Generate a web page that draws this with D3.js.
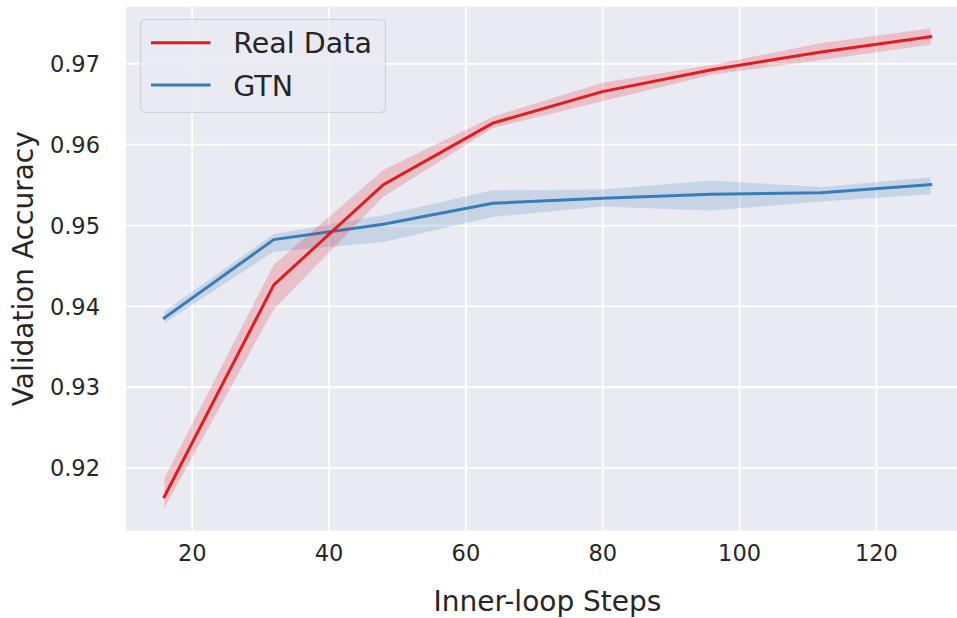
<!DOCTYPE html>
<html>
<head>
<meta charset="utf-8">
<script src="https://cdn.jsdelivr.net/npm/d3@7"></script>
<style>
  body { margin: 0; background: #fff; }
  text { font-family: "DejaVu Sans", sans-serif; fill: #262626; }
</style>
</head>
<body>
<svg id="chart"></svg>
<script>
// inner-loop steps on the x axis
var steps = [16, 32, 48, 64, 80, 96, 112, 128];

// Real Data: mean and confidence band
var realMean = [0.9164, 0.9426, 0.9550, 0.9626, 0.9665, 0.9692, 0.9714, 0.9733];
var realLow  = [0.9150, 0.9396, 0.9535, 0.9620, 0.9653, 0.9686, 0.9704, 0.9723];
var realHigh = [0.9187, 0.9451, 0.9568, 0.9634, 0.9676, 0.9698, 0.9725, 0.9743];

// GTN: mean and confidence band
var gtnMean = [0.9385, 0.9482, 0.9501, 0.9527, 0.9533, 0.9538, 0.9540, 0.9550];
var gtnLow  = [0.9379, 0.9467, 0.9479, 0.9510, 0.9523, 0.9518, 0.9529, 0.9538];
var gtnHigh = [0.9393, 0.9489, 0.9512, 0.9543, 0.9544, 0.9555, 0.9547, 0.9559];

var xTicks = [20, 40, 60, 80, 100, 120];
var yTicks = [0.92, 0.93, 0.94, 0.95, 0.96, 0.97];

var width = 957;
var height = 618;
var margin = {"top": 6.7, "right": -12, "bottom": 87.3, "left": 126};

var svg = d3.select("svg#chart")
    .attr("width", width)
    .attr("height", height);

var x = d3.scaleLinear()
    .domain([10.4, 133.6])
    .range([margin.left, width - margin.right]);

var y = d3.scaleLinear()
    .domain([0.9122, 0.9770])
    .range([height - margin.bottom, margin.top]);

svg.append("clipPath").attr("id", "plot-clip")
  .append("rect")
    .attr("x", margin.left)
    .attr("y", margin.top)
    .attr("width", width - margin.left)
    .attr("height", y.range()[0] - margin.top);

// background
svg.append("rect")
    .attr("x", margin.left)
    .attr("y", margin.top)
    .attr("width", x.range()[1] - margin.left)
    .attr("height", y.range()[0] - margin.top)
    .attr("fill", "#eaeaf2");

// grid via axes
var gx = svg.append("g")
    .attr("transform", "translate(0," + y.range()[0] + ")")
    .call(d3.axisBottom(x).tickValues(xTicks).tickSize(-(y.range()[0] - margin.top)).tickPadding(14).tickFormat(d3.format("d")));
var gy = svg.append("g")
    .attr("transform", "translate(" + margin.left + ",0)")
    .call(d3.axisLeft(y).tickValues(yTicks).tickSize(-(x.range()[1] - margin.left)).tickPadding(26).tickFormat(d3.format(".2f")));

[gx, gy].forEach(function(g) {
    g.select(".domain").remove();
    g.selectAll(".tick line").attr("stroke", "#fff").attr("stroke-width", 1.8);
    g.selectAll(".tick text").style("font-size", "22.5px").attr("fill", "#262626");
});
gy.selectAll(".tick text").attr("dy", "0.36em");
gx.selectAll(".tick text").attr("dy", "0.71em");

var plot = svg.append("g").attr("clip-path", "url(#plot-clip)");

function drawSeries(mean, low, high, color) {
    var idx = d3.range(steps.length);
    var area = d3.area()
        .x(function(i) { return x(steps[i]); })
        .y0(function(i) { return y(low[i]); })
        .y1(function(i) { return y(high[i]); });
    var line = d3.line()
        .x(function(i) { return x(steps[i]); })
        .y(function(i) { return y(mean[i]); });
    plot.append("path")
        .attr("d", area(idx))
        .attr("fill", color)
        .attr("fill-opacity", 0.2);
    plot.append("path")
        .attr("d", line(idx))
        .attr("fill", "none")
        .attr("stroke", color)
        .attr("stroke-width", 3)
        .attr("stroke-linecap", "square");
}

drawSeries(gtnMean, gtnLow, gtnHigh, "#377eb8");
drawSeries(realMean, realLow, realHigh, "#e41a1c");

// axis labels
svg.append("text")
    .attr("x", (x.range()[0] + x.range()[1]) / 2)
    .attr("y", 610.5)
    .attr("text-anchor", "middle")
    .style("font-size", "28px")
    .text("Inner-loop Steps");

svg.append("text")
    .attr("transform", "translate(33.3," + ((margin.top + y.range()[0]) / 2) + ") rotate(-90)")
    .attr("text-anchor", "middle")
    .style("font-size", "28px")
    .text("Validation Accuracy");

// legend
var legend = svg.append("g");
legend.append("rect")
    .attr("x", 140.5)
    .attr("y", 19.5)
    .attr("width", 245)
    .attr("height", 93)
    .attr("rx", 5)
    .attr("fill", "#eaeaf2")
    .attr("fill-opacity", 0.8)
    .attr("stroke", "#cccccc")
    .attr("stroke-opacity", 0.8)
    .attr("stroke-width", 1.2);

var legendItems = [
    {"name": "Real Data", "color": "#e41a1c"},
    {"name": "GTN", "color": "#377eb8"}
];
legendItems.forEach(function(d, i) {
    var ly = 42.7 + i * 42.3;
    legend.append("line")
        .attr("x1", 151).attr("x2", 210.5)
        .attr("y1", ly).attr("y2", ly)
        .attr("stroke", d.color)
        .attr("stroke-width", 3);
    legend.append("text")
        .attr("x", 233.3)
        .attr("y", ly + 10.6)
        .style("font-size", "28.5px")
        .text(d.name);
});
</script>
</body>
</html>
